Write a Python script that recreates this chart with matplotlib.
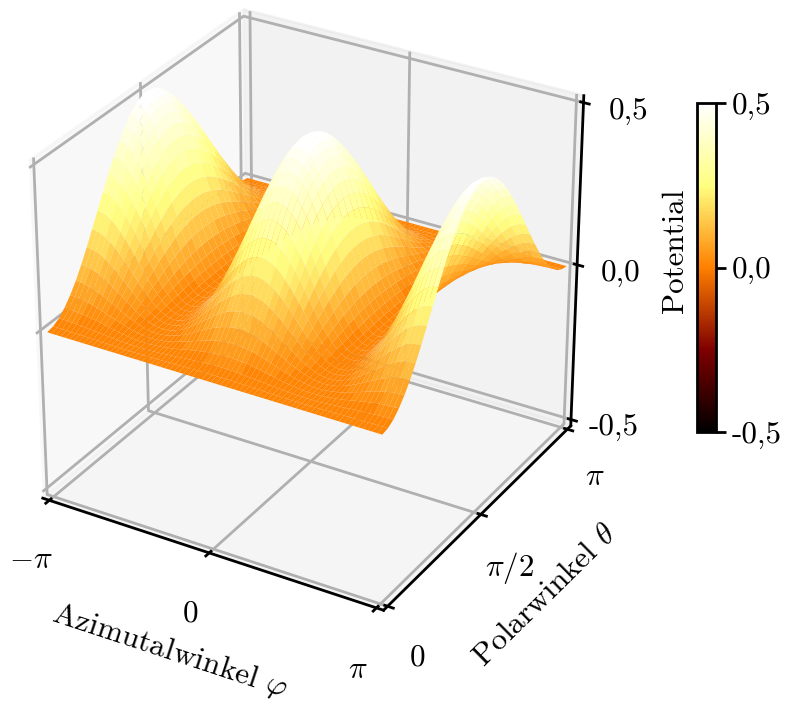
import numpy as np
import matplotlib
matplotlib.use("Agg")
import matplotlib.pyplot as plt
from matplotlib.cm import ScalarMappable
from matplotlib.colors import Normalize

plt.rcParams.update({
    "font.family": ["cmr10", "DejaVu Sans"],
    "mathtext.fontset": "cm",
    "axes.formatter.use_mathtext": True,
    "font.size": 11.2,
    "axes.unicode_minus": False,
    "grid.linewidth": 1.0,
    "axes.linewidth": 1.0,
    "xtick.major.width": 1.0,
    "ytick.major.width": 1.0,
})

# one quadrant: rows polar 0..90 deg, columns azimuth 0..90 deg (5 deg steps)
potential_quadrant = [
 [0]*19,
 [.004,.004,.004,.004,.003,.003,.003,.003,.002,.002,.002,.001,.001,.001,0,0,0,0,0],
 [.015,.015,.015,.014,.013,.012,.011,.010,.009,.008,.006,.005,.004,.003,.002,.001,0,0,0],
 [.034,.033,.032,.031,.030,.028,.025,.023,.020,.017,.014,.011,.008,.006,.004,.002,.001,0,0],
 [.059,.058,.057,.055,.052,.048,.044,.039,.034,.029,.024,.019,.015,.010,.007,.004,.002,0,0],
 [.089,.089,.087,.083,.079,.073,.067,.060,.052,.045,.037,.029,.022,.016,.011,.006,.003,.001,0],
 [.125,.124,.121,.117,.111,.103,.094,.084,.073,.063,.052,.041,.031,.022,.015,.009,.004,.001,0],
 [.165,.163,.160,.154,.145,.135,.123,.111,.096,.082,.068,.054,.041,.029,.019,.011,.005,.001,0],
 [.207,.205,.200,.193,.183,.170,.155,.139,.121,.103,.086,.068,.052,.037,.024,.014,.006,.002,0],
 [.250,.248,.243,.233,.221,.205,.188,.168,.147,.125,.104,.082,.063,.045,.030,.017,.008,.002,0],
 [.293,.291,.285,.274,.259,.241,.220,.197,.172,.147,.121,.097,.073,.052,.035,.020,.009,.002,0],
 [.336,.333,.325,.313,.297,.276,.252,.225,.197,.168,.139,.111,.084,.060,.040,.023,.010,.003,0],
 [.375,.372,.364,.350,.332,.308,.281,.252,.220,.188,.155,.124,.094,.067,.044,.025,.011,.003,0],
 [.411,.407,.398,.384,.363,.338,.308,.276,.241,.205,.170,.135,.103,.073,.048,.028,.012,.003,0],
 [.442,.438,.428,.412,.390,.363,.331,.297,.259,.221,.183,.146,.110,.079,.052,.030,.013,.004,0],
 [.467,.463,.452,.436,.412,.383,.350,.313,.273,.233,.193,.154,.117,.083,.055,.032,.014,.004,0],
 [.485,.481,.470,.453,.428,.398,.364,.326,.284,.242,.201,.160,.121,.086,.057,.033,.015,.004,0],
 [.496,.492,.481,.463,.439,.408,.372,.333,.291,.248,.205,.164,.124,.088,.059,.034,.015,.004,0],
 [.500,.496,.485,.467,.442,.411,.375,.336,.293,.250,.207,.165,.125,.089,.059,.034,.015,.004,0],
]
x_tick_labels = [r"$-\pi$", r"$0$", r"$\pi$"]
y_tick_labels = [r"$0$", r"$\pi/2$", r"$\pi$"]
z_tick_labels = ["-0,5", "0,0", "0,5"]
cbar_tick_labels = ["-0,5", "0,0", "0,5"]

q = np.array(potential_quadrant)
# azimuth -180..180 and polar 0..180: each quadrant is a reflection of the one read above
row_right = np.hstack([q, q[:, :-1][:, ::-1]])
row_full = np.hstack([row_right[:, 1:][:, ::-1], row_right])
Z = np.vstack([row_full, row_full[:-1][::-1]])
phi = np.radians(np.arange(-180, 185, 5))
theta = np.radians(np.arange(0, 185, 5))
P, T = np.meshgrid(phi, theta)

W, H = 787, 702
fig = plt.figure(figsize=(W / 200, H / 200), dpi=200)
ax = fig.add_axes([-0.067, 0.061, 0.90, 1.0], projection="3d")
ax.view_init(elev=29.5, azim=-59.5)
ax.set_box_aspect((1, 1, 0.97), zoom=0.937)
norm = Normalize(-0.5, 0.5)
ax.plot_surface(P, T, Z, cmap=plt.get_cmap("afmhot", 48), norm=norm,
                rstride=1, cstride=1, linewidth=0, antialiased=True)
m = 1 / 48
ax.set_xlim(-np.pi, np.pi, view_margin=m)
ax.set_ylim(0, np.pi, view_margin=m)
ax.set_zlim(-0.5, 0.5, view_margin=m)
ax.set_xticks([-np.pi, 0, np.pi], x_tick_labels)
ax.set_yticks([0, np.pi / 2, np.pi], y_tick_labels)
ax.set_zticks([-0.5, 0, 0.5], z_tick_labels)
ax.tick_params(axis="x", pad=4)
ax.tick_params(axis="y", pad=3)
ax.tick_params(axis="z", pad=3)
ax.set_xlabel(r"Azimutalwinkel $\varphi$", labelpad=4, fontsize=11.3)
ax.set_ylabel(r"Polarwinkel $\theta$", labelpad=4, fontsize=11.3)

cax = fig.add_axes([697 / W, (H - 432) / H, 19 / W, 329 / H])
cb = fig.colorbar(ScalarMappable(norm, "afmhot"), cax=cax, ticks=[-0.5, 0, 0.5])
cb.set_ticklabels(cbar_tick_labels)
cb.ax.tick_params(pad=2)
cb.ax.yaxis.set_label_position("left")
cb.set_label("Potential", labelpad=3, y=0.55)
fig.savefig("out.png", dpi=200)
